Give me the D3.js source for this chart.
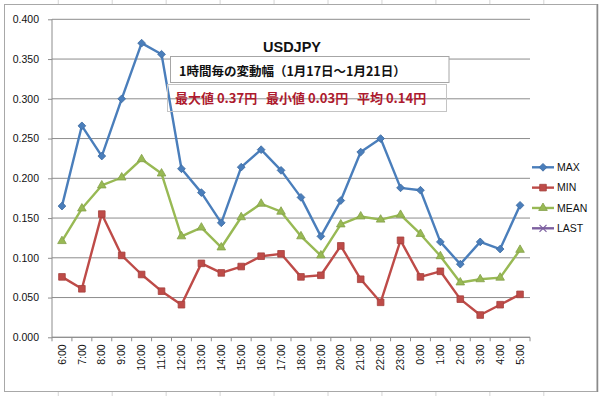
<!DOCTYPE html>
<html>
<head>
<meta charset="utf-8">
<script src="https://cdn.jsdelivr.net/npm/d3@7"></script>
<style>
  body { margin: 0; background: #fff; }
  svg { display: block; }
  text { font-family: "Liberation Sans", Arial, sans-serif; }
  .jp { font-family: "Noto Sans CJK JP", sans-serif; font-weight: bold; }
</style>
</head>
<body>
<div id="chart"></div>
<script>
const hours = ['6:00', '7:00', '8:00', '9:00', '10:00', '11:00', '12:00', '13:00', '14:00', '15:00', '16:00', '17:00',
    '18:00', '19:00', '20:00', '21:00', '22:00', '23:00', '0:00', '1:00', '2:00', '3:00', '4:00', '5:00']
const maxVals = [0.165, 0.266, 0.228, 0.300, 0.370, 0.356, 0.212, 0.182, 0.144, 0.214, 0.236, 0.210,
    0.176, 0.127, 0.172, 0.233, 0.250, 0.188, 0.185, 0.120, 0.092, 0.120, 0.111, 0.166]
const minVals = [0.076, 0.061, 0.155, 0.103, 0.079, 0.058, 0.041, 0.093, 0.081, 0.089, 0.102, 0.105,
    0.076, 0.078, 0.115, 0.073, 0.044, 0.122, 0.076, 0.083, 0.048, 0.028, 0.041, 0.054]
const meanVals = [0.121, 0.162, 0.191, 0.201, 0.224, 0.206, 0.127, 0.138, 0.113, 0.151, 0.168, 0.158,
    0.127, 0.103, 0.142, 0.152, 0.148, 0.154, 0.130, 0.102, 0.069, 0.073, 0.075, 0.110]
const lastVals = []
const yTicks = [0, 0.05, 0.1, 0.15, 0.2, 0.25, 0.3, 0.35, 0.4]

const seriesNames = ['MAX', 'MIN', 'MEAN', 'LAST']
const title = 'USDJPY'
const subtitle = '1時間毎の変動幅（1月17日～1月21日）'
const summaryParts = ['最大値 0.37円', '最小値 0.03円', '平均 0.14円']

const width = 600
const height = 396
const plot = { left: 52, right: 530, top: 19.3, bottom: 337.3 }

const series = [
    { name: seriesNames[0], values: maxVals, color: '#4a7ebb', marker: 'diamond' },
    { name: seriesNames[1], values: minVals, color: '#be4b48', marker: 'square' },
    { name: seriesNames[2], values: meanVals, color: '#98b954', marker: 'triangle' },
    { name: seriesNames[3], values: lastVals, color: '#7d60a0', marker: 'x' }
]

const markerPath = (type) => {
    if (type === 'diamond') return d3.symbol(d3.symbolSquare, 30)()
    if (type === 'square') return d3.symbol(d3.symbolSquare, 44)()
    if (type === 'triangle') return d3.symbol(d3.symbolTriangle, 32)()
    return 'M-3.5,-3.5L3.5,3.5M-3.5,3.5L3.5,-3.5'
}
const markerRotate = (type) => type === 'diamond' ? ' rotate(45)' : ''

const svg = d3.select('#chart')
    .append('svg')
    .attr('width', width)
    .attr('height', height)

// sheet cells around the chart object
const colLines = d3.range(1, 11).map((k) => 4.3 + 53.95 * k)
svg.selectAll('.col-top')
    .data(colLines)
    .enter()
    .append('line')
    .attr('x1', (d) => d).attr('x2', (d) => d)
    .attr('y1', 0).attr('y2', 4)
    .attr('stroke', '#d4d4d4')
svg.selectAll('.col-bottom')
    .data(colLines)
    .enter()
    .append('line')
    .attr('x1', (d) => d).attr('x2', (d) => d)
    .attr('y1', 392).attr('y2', 396)
    .attr('stroke', '#d4d4d4')

// chart frame
svg.append('rect')
    .attr('x', 4.5).attr('y', 4.5)
    .attr('width', 592.5).attr('height', 387)
    .attr('fill', '#fff')
    .attr('stroke', '#a8a8a8')
svg.append('line')
    .attr('x1', 597.5).attr('x2', 597.5)
    .attr('y1', 4).attr('y2', 392)
    .attr('stroke', '#8a8a8a').attr('stroke-width', 1.5)

const xScale = d3.scaleBand().domain(hours).range([plot.left, plot.right]).padding(0)
const yScale = d3.scaleLinear().domain([0, 0.4]).range([plot.bottom, plot.top])
const cx = (h) => xScale(h) + xScale.bandwidth() / 2

// gridlines
svg.append('g')
    .selectAll('line')
    .data(yTicks)
    .enter()
    .append('line')
    .attr('x1', plot.left).attr('x2', plot.right)
    .attr('y1', (d) => yScale(d)).attr('y2', (d) => yScale(d))
    .attr('stroke', '#8c8c8c')
    .attr('stroke-width', 1)

// y axis
const yAxis = d3.axisLeft(yScale).tickValues(yTicks).tickFormat(d3.format('.3f')).tickSize(4).tickPadding(9)
const gy = svg.append('g')
    .attr('transform', `translate(${plot.left}, 0)`)
    .call(yAxis)
gy.select('.domain').attr('stroke', '#8c8c8c').attr('d', `M0,${plot.top}V${plot.bottom}`)
gy.selectAll('.tick line').attr('stroke', '#8c8c8c')
gy.selectAll('.tick text').attr('font-size', 10.5).attr('fill', '#111')
    .attr('font-family', '"Liberation Sans", Arial, sans-serif')

// x axis (labels at category centres, ticks between categories)
const xAxis = d3.axisBottom(xScale).tickSize(0)
const gx = svg.append('g')
    .attr('transform', `translate(0, ${plot.bottom})`)
    .call(xAxis)
gx.select('.domain').attr('stroke', '#8c8c8c').attr('d', `M${plot.left},0H${plot.right}`)
gx.selectAll('.tick text')
    .attr('transform', 'rotate(-90)')
    .attr('text-anchor', 'end')
    .attr('x', -7)
    .attr('y', 0)
    .attr('dy', '0.35em')
    .attr('font-size', 10.5)
    .attr('fill', '#111')
    .attr('font-family', '"Liberation Sans", Arial, sans-serif')
gx.selectAll('.between')
    .data(d3.range(hours.length + 1))
    .enter()
    .append('line')
    .attr('x1', (i) => plot.left + i * xScale.step())
    .attr('x2', (i) => plot.left + i * xScale.step())
    .attr('y1', 0).attr('y2', 4)
    .attr('stroke', '#8c8c8c')

// series
const line = d3.line()
    .x((d, i) => cx(hours[i]))
    .y((d) => yScale(d))

series.forEach((s) => {
    if (!s.values.length) return
    svg.append('path')
        .datum(s.values)
        .attr('d', line)
        .attr('fill', 'none')
        .attr('stroke', s.color)
        .attr('stroke-width', 2.4)
        .attr('stroke-linejoin', 'round')
    svg.append('g')
        .selectAll('path')
        .data(s.values)
        .enter()
        .append('path')
        .attr('d', markerPath(s.marker))
        .attr('transform', (d, i) => `translate(${cx(hours[i])}, ${yScale(d)})` + markerRotate(s.marker))
        .attr('fill', s.color)
        .attr('stroke', d3.color(s.color).darker(0.4))
        .attr('stroke-width', 0.8)
})

// legend
const legendY = d3.scalePoint().domain(seriesNames).range([167.3, 228.3])
const legend = svg.append('g')
series.forEach((s) => {
    const y = legendY(s.name)
    legend.append('line')
        .attr('x1', 532).attr('x2', 554)
        .attr('y1', y).attr('y2', y)
        .attr('stroke', s.color)
        .attr('stroke-width', 2.4)
    const m = legend.append('path')
        .attr('d', markerPath(s.marker))
        .attr('transform', `translate(543, ${y})` + markerRotate(s.marker))
    if (s.marker === 'x') {
        m.attr('fill', 'none').attr('stroke', s.color).attr('stroke-width', 1.2)
    } else {
        m.attr('fill', s.color).attr('stroke', d3.color(s.color).darker(0.4)).attr('stroke-width', 0.8)
    }
    legend.append('text')
        .attr('x', 557)
        .attr('y', y)
        .attr('dy', '0.35em')
        .attr('font-size', 10.5)
        .attr('fill', '#111')
        .text(s.name)
})

// title and text boxes
svg.append('text')
    .attr('x', 292)
    .attr('y', 51.5)
    .attr('text-anchor', 'middle')
    .attr('font-size', 14.5)
    .attr('font-weight', 'bold')
    .attr('fill', '#111')
    .text(title)

svg.append('rect')
    .attr('x', 170.5).attr('y', 56.5)
    .attr('width', 278.5).attr('height', 26)
    .attr('fill', '#fff')
    .attr('stroke', '#a6a6a6')
svg.append('text')
    .attr('class', 'jp')
    .attr('x', 179)
    .attr('y', 71.5)
    .attr('dy', '0.35em')
    .attr('font-size', 12.5)
    .attr('fill', '#111')
    .text(subtitle)

svg.append('rect')
    .attr('x', 167.5).attr('y', 84.5)
    .attr('width', 279).attr('height', 27)
    .attr('fill', 'none')
    .attr('stroke', '#c4c4c4')
const summary = svg.append('text')
    .attr('class', 'jp')
    .attr('y', 98)
    .attr('dy', '0.35em')
    .attr('font-size', 13)
    .attr('fill', '#ad1a2e')
summary.selectAll('tspan')
    .data(summaryParts)
    .enter()
    .append('tspan')
    .attr('x', (d, i) => [175, 266, 357][i])
    .text((d) => d)
</script>
</body>
</html>
